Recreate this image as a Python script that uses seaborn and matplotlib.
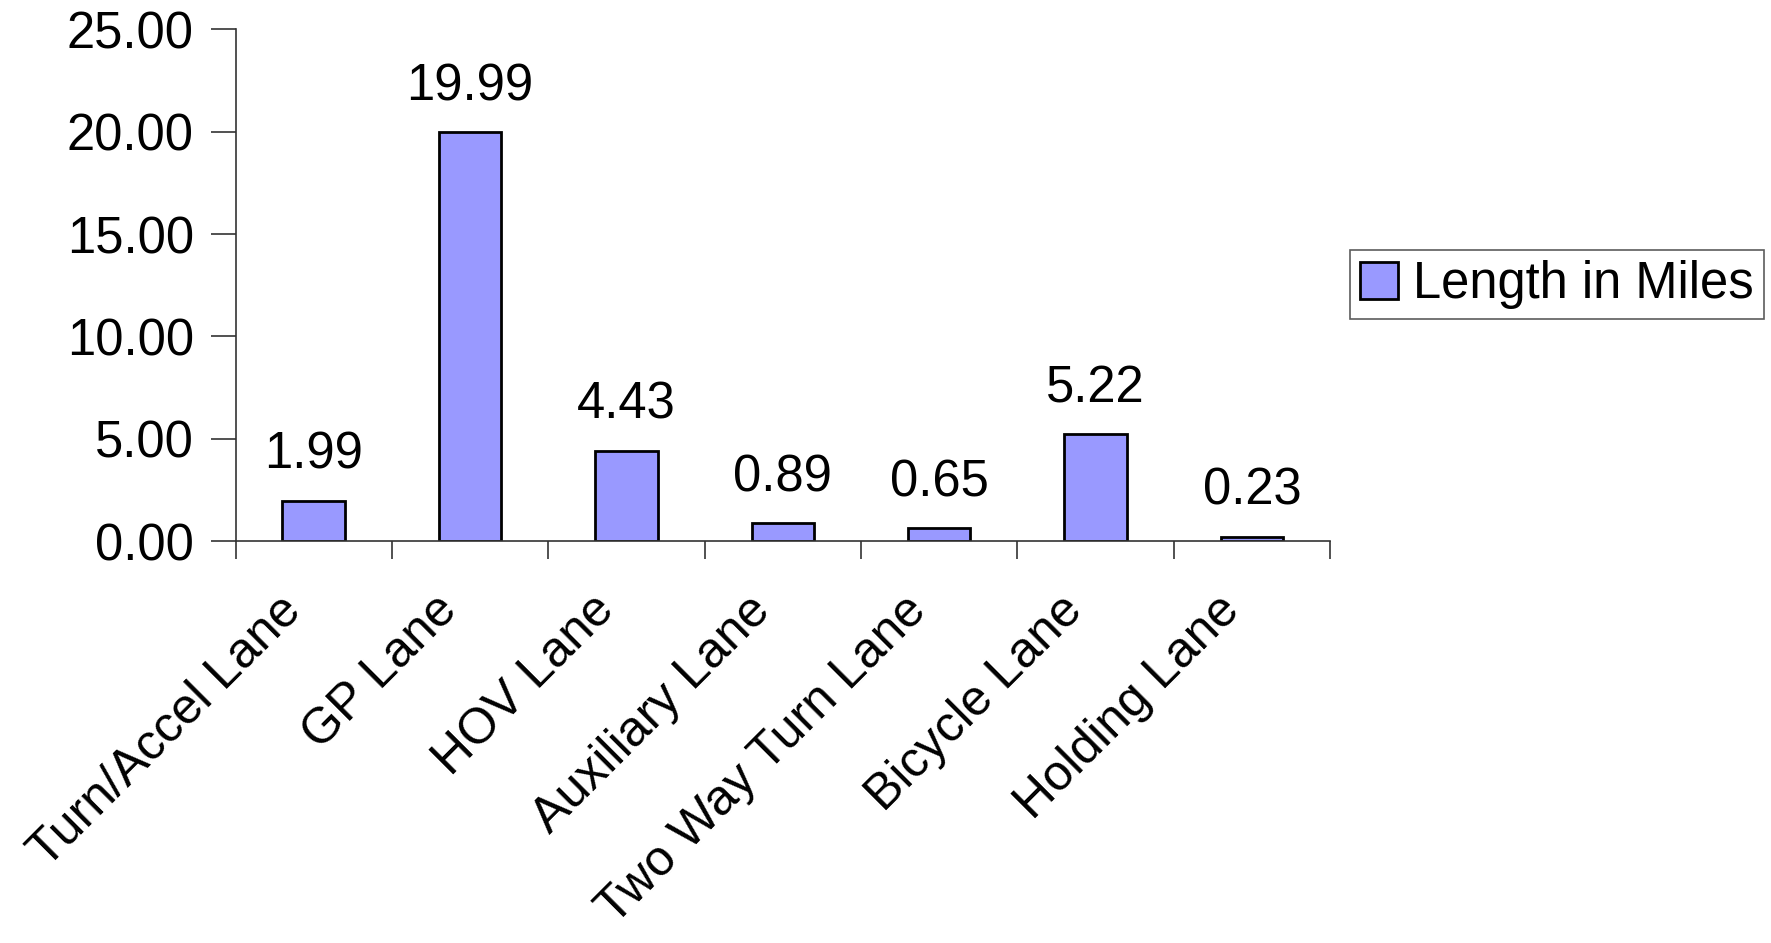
# Lane length bar chart
import matplotlib
matplotlib.use("Agg")
import matplotlib.pyplot as plt
import matplotlib.ticker as mticker
import matplotlib.transforms as mtransforms
import seaborn as sns
import pandas as pd

lanes = ["Turn/Accel Lane", "GP Lane", "HOV Lane", "Auxiliary Lane",
         "Two Way Turn Lane", "Bicycle Lane", "Holding Lane"]
miles = [1.99, 19.99, 4.43, 0.89, 0.65, 5.22, 0.23]
series_name = "Length in Miles"

df = pd.DataFrame({"lane": lanes, "miles": miles})

sns.set_style("white")
plt.rcParams['font.family'] = ['Liberation Sans', 'DejaVu Sans']
plt.rcParams['text.color'] = 'black'
plt.rcParams['xtick.color'] = 'black'
plt.rcParams['ytick.color'] = 'black'

fig = plt.figure(figsize=(17.71, 9.43), dpi=100)
ax = fig.add_axes([0.133, 0.426, 0.618, 0.543])

sns.barplot(data=df, x="lane", y="miles", color="#9999FF", edgecolor="black",
            linewidth=2, width=0.4, saturation=1, ax=ax)

# value labels above bars
ax.bar_label(ax.containers[0], fmt="%.2f", padding=15, fontsize=36.5, color="black")

ax.set_ylim(0, 25)
ax.set_xlim(-0.5, len(lanes) - 0.5)
ax.yaxis.set_major_locator(mticker.MultipleLocator(5))
ax.yaxis.set_major_formatter(mticker.FormatStrFormatter("%.2f"))
ax.set_xlabel("")
ax.set_ylabel("")

# tick marks between categories, labels under the centers
ax.set_xticks([i - 0.5 for i in range(len(lanes) + 1)], minor=True)
ax.tick_params(axis="x", which="minor", bottom=True, length=13, width=1.2,
               color="#333333", direction="out")
ax.tick_params(axis="x", which="major", bottom=True, length=0, pad=40, labelsize=36)
offset = mtransforms.ScaledTranslation(-0.36, 0.10, fig.dpi_scale_trans)
for lbl in ax.get_xticklabels():
    lbl.set_rotation(45)
    lbl.set_ha("right")
    lbl.set_rotation_mode("anchor")
    lbl.set_transform(lbl.get_transform() + offset)
ax.tick_params(axis="y", length=18, width=1.2, color="#333333", direction="out",
               pad=12, labelsize=36.5, left=True)

for side in ["top", "right"]:
    ax.spines[side].set_visible(False)
for side in ["left", "bottom"]:
    ax.spines[side].set_color("#333333")
    ax.spines[side].set_linewidth(1.2)

leg = fig.legend(handles=ax.containers[0][:1], labels=[series_name],
                 loc="center left", bbox_to_anchor=(0.762, 0.698),
                 fontsize=36.5, frameon=True, fancybox=False,
                 handlelength=0.75, handleheight=0.75, handletextpad=0.3,
                 borderpad=0.2, borderaxespad=0)
leg.get_frame().set_edgecolor("#333333")
leg.get_frame().set_linewidth(1.2)

fig.savefig("out.png", dpi=100)
